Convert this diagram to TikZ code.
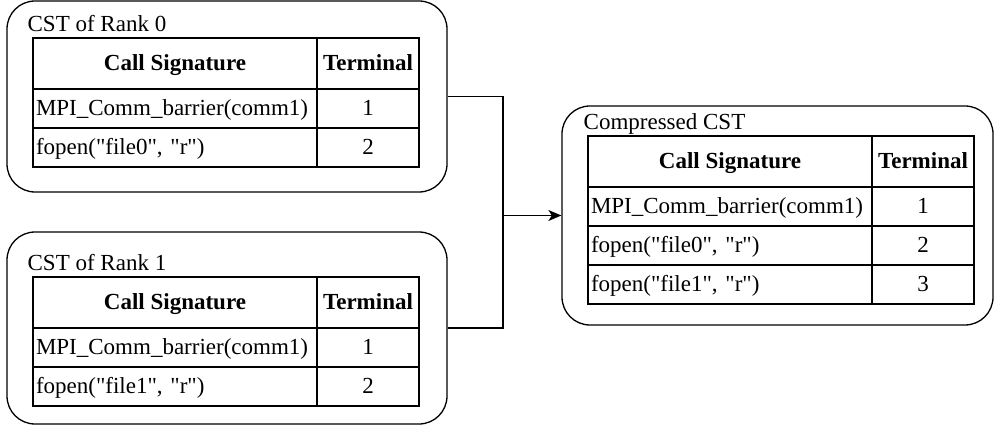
\documentclass[tikz,border=0pt]{standalone}
\usepackage{fontspec}
\setmainfont{Liberation Serif}[Ligatures=TeXOff]
\usetikzlibrary{arrows.meta}
\begin{document}
\begin{tikzpicture}[x=1pt,y=-1pt,
  font=\fontsize{23}{27}\selectfont,
  line width=1.3pt,
  group/.style={draw, rounded corners=28pt, inner sep=0pt},
  cell/.style={draw, inner sep=0pt, text height=17pt, text depth=3pt},
  hcell/.style={cell, minimum height=51pt, font=\fontsize{23}{27}\selectfont\bfseries},
  rcell/.style={cell, minimum height=39pt},
  sigcol/.style={minimum width=284pt},
  termcol/.style={minimum width=102pt},
  lcell/.style={rcell, text width=278pt, align=left, inner xsep=3pt},
  title/.style={anchor=base west, inner sep=0pt},
  conn/.style={line width=1.3pt}
]
\useasboundingbox (0,0) rectangle (995,427);

% group boxes
\node[group, minimum width=440pt, minimum height=191pt] (box0) at (227,96.5) {};
\node[group, minimum width=440pt, minimum height=192pt] (box1) at (227,328) {};
\node[group, minimum width=431pt, minimum height=219pt] (boxc) at (777.5,215.5) {};

% titles
\node[title] (t0) at (27,32) {CST of Rank 0};
\node[title] (t1) at (27,271) {CST of Rank 1};
\node[title] (tc) at (583,130) {Compressed CST};

% table rank 0
\node[hcell, sigcol] (h0a) at (175,63.5) {Call Signature};
\node[hcell, termcol] (h0b) at (368,63.5) {Terminal};
\node[lcell] (r0a1) at (175,108.5) {\mbox{MPI\_Comm\_barrier(comm1)}};
\node[rcell, termcol] (r0b1) at (368,108.5) {1};
\node[lcell] (r0a2) at (175,147.5) {\mbox{fopen("file0", "r")}};
\node[rcell, termcol] (r0b2) at (368,147.5) {2};

% table rank 1
\node[hcell, sigcol] (h1a) at (175,302.5) {Call Signature};
\node[hcell, termcol] (h1b) at (368,302.5) {Terminal};
\node[lcell] (r1a1) at (175,347.5) {\mbox{MPI\_Comm\_barrier(comm1)}};
\node[rcell, termcol] (r1b1) at (368,347.5) {1};
\node[lcell] (r1a2) at (175,386.5) {\mbox{fopen("file1", "r")}};
\node[rcell, termcol] (r1b2) at (368,386.5) {2};

% compressed table
\node[hcell, sigcol] (hca) at (730,161.5) {Call Signature};
\node[hcell, termcol] (hcb) at (923,161.5) {Terminal};
\node[lcell] (rca1) at (730,206.5) {\mbox{MPI\_Comm\_barrier(comm1)}};
\node[rcell, termcol] (rcb1) at (923,206.5) {1};
\node[lcell] (rca2) at (730,245.5) {\mbox{fopen("file0", "r")}};
\node[rcell, termcol] (rcb2) at (923,245.5) {2};
\node[lcell] (rca3) at (730,284.5) {\mbox{fopen("file1", "r")}};
\node[rcell, termcol] (rcb3) at (923,284.5) {3};

% connectors
\coordinate (join) at (503,215.5);
\draw[conn] (box0.east) -| (join);
\draw[conn] (box1.east) -| (join);
\draw[conn, -{Stealth[length=13pt,width=11pt,inset=3.5pt]}] (join) -- (boxc.west);
\end{tikzpicture}
\end{document}
